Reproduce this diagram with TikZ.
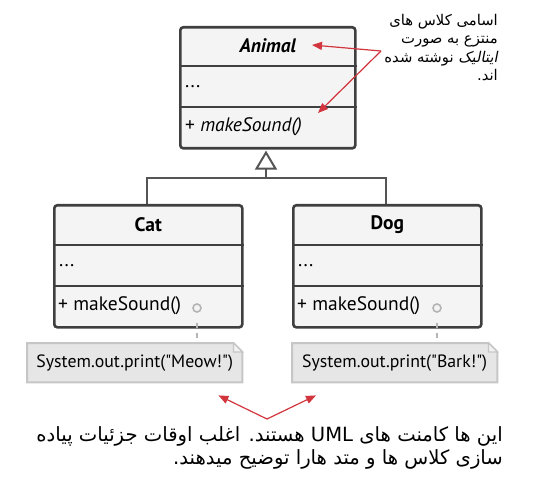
\documentclass[tikz,border=0pt]{standalone}
\usepackage{fontspec}
\setmainfont{PT Sans}
\newfontfamily\notefont{PT Sans}[Ligatures=TeXOff]
\newfontfamily\arfont[Script=Arabic]{DejaVu Sans}
\newfontfamily\arfontit[Script=Arabic,FakeSlant=0.2]{DejaVu Sans}
\TeXXeTstate=1
\usetikzlibrary{arrows.meta,calc}
\definecolor{boxline}{HTML}{3F3F3F}
\definecolor{boxfill}{HTML}{F4F4F4}
\definecolor{conn}{HTML}{555555}
\definecolor{notefill}{HTML}{E6E6E6}
\definecolor{noteline}{HTML}{C6C6C6}
\definecolor{foldfill}{HTML}{F2F2F2}
\definecolor{pin}{HTML}{B4B4B4}
\definecolor{annot}{HTML}{D2353D}
\begin{document}
\begin{tikzpicture}[x=1pt,y=-1pt,
  classbox/.style={draw=boxline, fill=boxfill, line width=2.6pt, rounded corners=3pt,
    inner sep=0pt, anchor=north west, rectangle},
  divider/.style={draw=boxline, line width=2.6pt},
  cname/.style={font=\fontsize{19.5}{22}\selectfont\bfseries},
  member/.style={font=\fontsize{19.5}{22}\selectfont, anchor=west, inner sep=0pt},
  notebox/.style={rectangle, inner sep=0pt, anchor=north west, minimum height=39pt},
  notepath/.style={fill=notefill, draw=noteline, line width=2pt},
  notetext/.style={font=\notefont\fontsize{17.8}{20}\selectfont},
  pinnode/.style={circle, draw=pin, line width=1.6pt, minimum size=8pt, inner sep=0pt, fill=boxfill},
  pinline/.style={draw=pin, line width=1.6pt, dash pattern=on 5pt off 5pt},
  gen/.style={draw=conn, line width=2pt},
  redarrow/.style={draw=annot, line width=1.2pt, -{Triangle[length=10pt,width=8pt]}},
  artext/.style={align=right, inner sep=0pt}
]
\useasboundingbox (0,0) rectangle (536,484);

% ---------- Animal ----------
\node[classbox, minimum width=175pt, minimum height=121pt] (animal) at (179,26) {};
\draw[divider] ($(animal.north west)+(0,40)$) -- ($(animal.north east)+(0,40)$);
\draw[divider] ($(animal.north west)+(0,81)$) -- ($(animal.north east)+(0,81)$);
\node[cname, font=\fontsize{19.5}{22}\selectfont\bfseries\itshape] (animalname) at ($(animal.north)+(0,20)$) {Animal};
\node[member] (animalattr) at ($(animal.north west)+(6,61)$) {...};
\node[member] (animalmeth) at ($(animal.north west)+(6,101)$) {+ \textit{makeSound()}};

% ---------- Cat ----------
\node[classbox, minimum width=188pt, minimum height=122pt] (cat) at (53,204) {};
\draw[divider] ($(cat.north west)+(0,41)$) -- ($(cat.north east)+(0,41)$);
\draw[divider] ($(cat.north west)+(0,82)$) -- ($(cat.north east)+(0,82)$);
\node[cname] (catname) at ($(cat.north)+(0,21)$) {Cat};
\node[member] (catattr) at ($(cat.north west)+(6,62)$) {...};
\node[member] (catmeth) at ($(cat.north west)+(5,102)$) {+ makeSound()};

% ---------- Dog ----------
\node[classbox, minimum width=188pt, minimum height=122pt] (dog) at (292,204) {};
\draw[divider] ($(dog.north west)+(0,41)$) -- ($(dog.north east)+(0,41)$);
\draw[divider] ($(dog.north west)+(0,82)$) -- ($(dog.north east)+(0,82)$);
\node[cname] (dogname) at ($(dog.north)+(0,21)$) {Dog};
\node[member] (dogattr) at ($(dog.north west)+(6,62)$) {...};
\node[member] (dogmeth) at ($(dog.north west)+(5,102)$) {+ makeSound()};

% ---------- Generalization ----------
\coordinate (bus) at (266,178);
\draw[gen] (cat.north -| 147,0) |- (bus) -| (dog.north -| 386,0);
\draw[gen, -{Triangle[open, length=19pt, width=22pt, line width=2pt]}, shorten >=1pt] (bus) -- (animal.south -| bus);

% ---------- Notes ----------
\node[notebox, minimum width=215pt] (catnote) at (27,343) {};
\node[notebox, minimum width=205pt] (dognote) at (292,343) {};
\foreach \n in {catnote,dognote}{
  \draw[notepath] (\n.north west) -- ($(\n.north east)+(-9,0)$) -- ($(\n.north east)+(0,9)$)
     -- (\n.south east) -- (\n.south west) -- cycle;
  \draw[noteline, line width=1.2pt, fill=foldfill] ($(\n.north east)+(-9,0)$) -- ($(\n.north east)+(-9,9)$) -- ($(\n.north east)+(0,9)$) -- cycle;
}
\node[notetext] (cattext) at (catnote.center) {System.out.print("Meow!")};
\node[notetext] (dogtext) at (dognote.center) {System.out.print("Bark!")};

% pins
\node[pinnode] (catpin) at (197,308) {};
\node[pinnode] (dogpin) at (437,308) {};
\draw[pinline] ($(catpin.south)+(0,10)$) -- ($(catnote.north -| catpin)+(0,-5)$);
\draw[pinline] ($(dogpin.south)+(0,10)$) -- ($(dognote.north -| dogpin)+(0,-5)$);

% ---------- Annotations ----------
\node[artext, anchor=north east, font=\fontsize{14.8}{18.5}\selectfont] (toptext) at (498,14)
  {\arfont\beginR اسامی کلاس های\endR\\
   \arfont\beginR منتزع به صورت\endR\\
   \arfont\beginR {\arfontit ایتالیک} نوشته شده\endR\\
   \arfont\beginR اند.\endR};
\coordinate (topsrc) at (381,51);
\coordinate (toptip1) at (312,45);
\coordinate (toptip2) at (318,113);
\draw[redarrow] (topsrc) -- (toptip1);
\draw[redarrow] (topsrc) -- (toptip2);

\node[artext, anchor=north east, font=\fontsize{19.6}{23}\selectfont] (bottext) at (503,426)
  {\arfont\beginR این ها کامنت های \beginL UML\endL{} هستند. اغلب اوقات جزئیات پیاده\endR\\
   \arfont\beginR سازی کلاس ها و متد هارا توضیح میدهند.\endR};
\coordinate (botsrc) at (267,419);
\draw[redarrow] (botsrc) -- ($(catnote.south east)+(-24,13)$);
\draw[redarrow] (botsrc) -- ($(dognote.south west)+(24,13)$);
\end{tikzpicture}
\end{document}
